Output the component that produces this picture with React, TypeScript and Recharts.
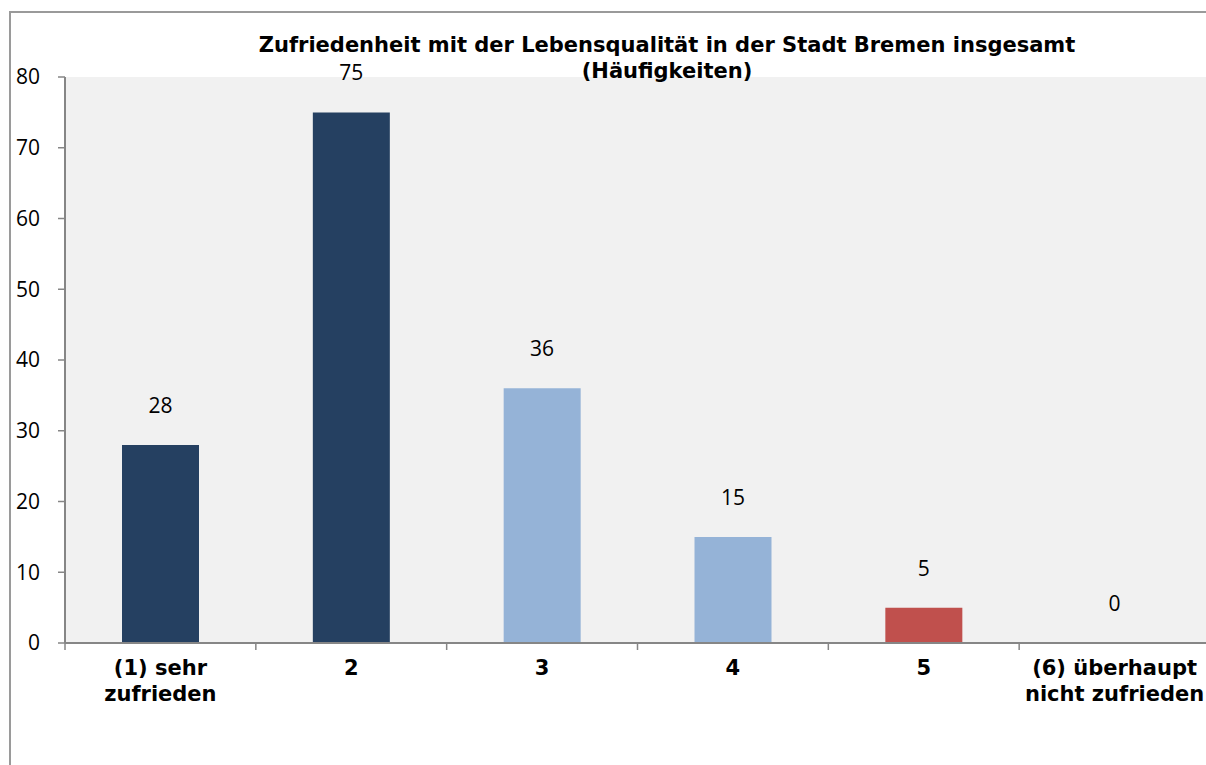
import { ComposedChart, Bar, Line, XAxis, YAxis, CartesianGrid, Cell, LabelList } from "recharts";

const categories = ["(1) sehr|zufrieden", "2", "3", "4", "5", "(6) überhaupt|nicht zufrieden"];
const counts = [28, 75, 36, 15, 5, 0];
const yTicks = [0, 10, 20, 30, 40, 50, 60, 70, 80];

const barColors = ["#254061", "#254061", "#95B3D7", "#95B3D7", "#C0504D", "#C0504D"];

const data = categories.map((label, i) => ({ label, value: counts[i] }));

const PLOT_W = 1145;
const band = PLOT_W / categories.length;

function CategoryTick(props: any) {
  const { x, y, payload } = props;
  const lines: string[] = String(payload.value).split("|");
  return (
    <g>
      <line x1={x - band / 2} x2={x - band / 2} y1={y} y2={y + 7} stroke="#868686" strokeWidth={1.5} />
      {lines.map((t, i) => (
        <text
          key={i}
          x={x}
          y={y + 25 + i * 26}
          textAnchor="middle"
          dominantBaseline="central"
          fontFamily="DejaVu Sans"
          fontWeight="bold"
          fontSize={21}
          fill="#000"
        >
          {t}
        </text>
      ))}
    </g>
  );
}

// value labels hang off an invisible line so the zero category gets one too
function ValueLabel(props: any) {
  const { x, y, value } = props;
  return (
    <text
      x={Number(x)}
      y={Number(y) - 40}
      textAnchor="middle"
      dominantBaseline="central"
      fontFamily="Open Sans"
      fontSize={21}
      fill="#000"
    >
      {value}
    </text>
  );
}

export default function App() {
  return (
    <div style={{ position: "fixed", left: 0, top: 0, width: 1206, height: 765, overflow: "hidden", background: "#fff" }}>
      <div
        style={{
          position: "absolute",
          left: 9,
          top: 11,
          width: 1400,
          height: 1000,
          border: "2px solid #9a9a9a",
          boxSizing: "border-box",
        }}
      />
      <div style={{ position: "absolute", left: 0, top: 0 }}>
        <ComposedChart
          width={1300}
          height={765}
          data={data}
          margin={{ top: 77, right: 90, left: 10, bottom: 62 }}
          barCategoryGap={0}
        >
          <CartesianGrid fill="#F1F1F1" horizontal={false} vertical={false} />
          <XAxis
            dataKey="label"
            height={60}
            interval={0}
            tickLine={false}
            tickSize={0}
            tickMargin={0}
            axisLine={{ stroke: "#868686", strokeWidth: 2 }}
            tick={<CategoryTick />}
          />
          <YAxis
            width={55}
            domain={[0, 80]}
            ticks={yTicks}
            interval={0}
            tickSize={7}
            tickMargin={18}
            axisLine={{ stroke: "#868686", strokeWidth: 2 }}
            tickLine={{ stroke: "#868686", strokeWidth: 1.5 }}
            tick={{ fill: "#000", fontSize: 21, fontFamily: "Open Sans" }}
          />
          <Bar dataKey="value" barSize={77} isAnimationActive={false}>
            {data.map((_, i) => (
              <Cell key={i} fill={barColors[i]} />
            ))}
          </Bar>
          <Line
            dataKey="value"
            stroke="none"
            dot={false}
            activeDot={false}
            legendType="none"
            isAnimationActive={false}
          >
            <LabelList dataKey="value" content={<ValueLabel />} />
          </Line>
        </ComposedChart>
      </div>
      <div
        style={{
          position: "absolute",
          left: 0,
          width: 1334,
          top: 32,
          textAlign: "center",
          fontFamily: "DejaVu Sans",
          fontWeight: "bold",
          fontSize: 21,
          lineHeight: "26px",
          color: "#000",
          whiteSpace: "nowrap",
        }}
      >
        Zufriedenheit mit der Lebensqualität in der Stadt Bremen insgesamt
        <br />
        (Häufigkeiten)
      </div>
    </div>
  );
}
